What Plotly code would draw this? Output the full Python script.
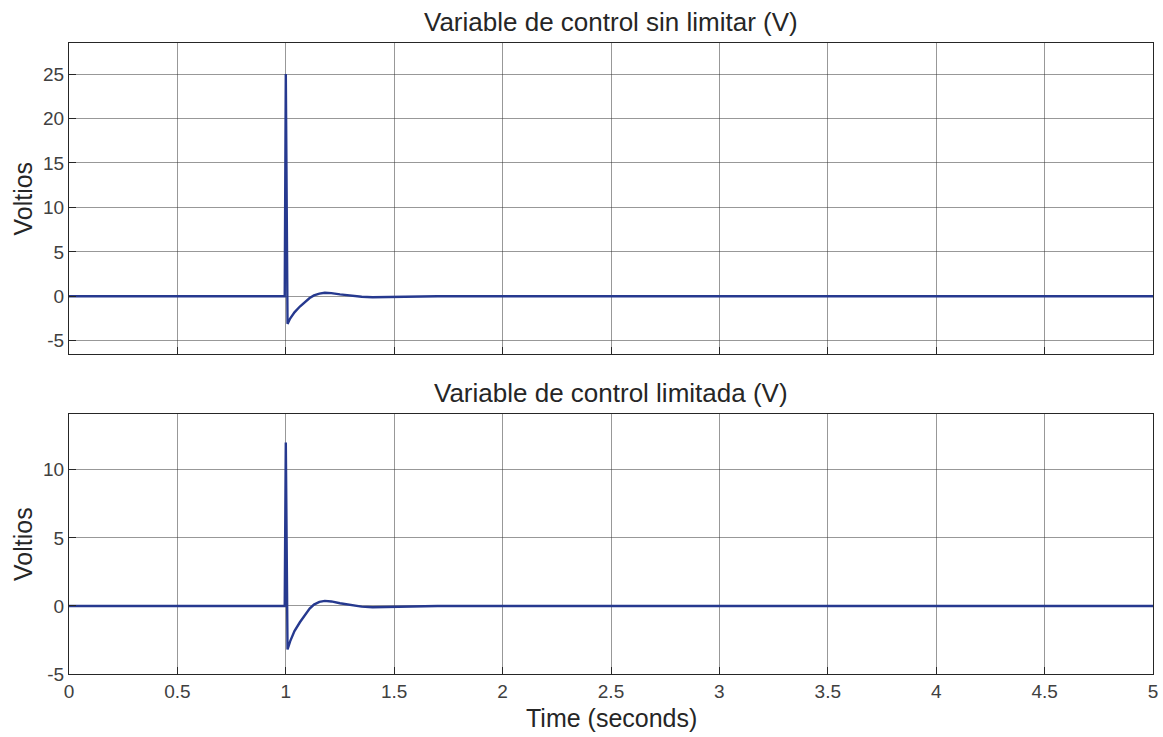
import plotly.graph_objects as go
from plotly.subplots import make_subplots

# Time samples (s)
t = [0.0, 0.995, 1.0, 1.008, 1.02, 1.04, 1.065, 1.09, 1.11, 1.13, 1.155, 1.18,
     1.21, 1.25, 1.30, 1.35, 1.40, 1.45, 1.50, 1.60, 1.70, 5.0]
# Unlimited control signal (V)
u_unlim = [0.0, 0.0, 25.0, -3.1, -2.5, -1.8, -1.15, -0.6, -0.2, 0.1, 0.3, 0.4,
           0.36, 0.22, 0.07, -0.05, -0.1, -0.08, -0.04, 0.0, 0.0, 0.0]
# Limited control signal (V)
u_lim = [0.0, 0.0, 12.0, -3.2, -2.6, -1.85, -1.2, -0.6, -0.2, 0.1, 0.3, 0.37,
         0.33, 0.2, 0.07, -0.05, -0.1, -0.08, -0.04, 0.0, 0.0, 0.0]

titles = ["Variable de control sin limitar (V)", "Variable de control limitada (V)"]
y_label = "Voltios"
x_label = "Time (seconds)"
x_ticks = [0, 0.5, 1, 1.5, 2, 2.5, 3, 3.5, 4, 4.5, 5]
y1_ticks = [-5, 0, 5, 10, 15, 20, 25]
y2_ticks = [-5, 0, 5, 10]

line_color = "#26398f"
font = "Liberation Sans, Arial, sans-serif"
text_color = "#262626"

fig = make_subplots(rows=2, cols=1, shared_xaxes=False)
fig.add_trace(go.Scatter(x=t, y=u_unlim, mode="lines",
                         line=dict(color=line_color, width=2.4), showlegend=False), row=1, col=1)
fig.add_trace(go.Scatter(x=t, y=u_lim, mode="lines",
                         line=dict(color=line_color, width=2.4), showlegend=False), row=2, col=1)

axis_common = dict(showline=True, linecolor="#262626", linewidth=1.3, mirror=True,
                   ticks="inside", ticklen=7, tickcolor="#262626", automargin=False,
                   showgrid=True, gridcolor="rgba(50,50,50,0.5)", gridwidth=1,
                   zeroline=False, tickfont=dict(family=font, size=19, color="#404040"))

fig.update_xaxes(range=[0, 5], tickvals=x_ticks, domain=[0, 1], **axis_common)
fig.update_xaxes(showticklabels=False, row=1, col=1)
fig.update_xaxes(ticktext=[str(v) for v in x_ticks], row=2, col=1)
fig.update_yaxes(**axis_common)
fig.update_yaxes(range=[-6.5, 28.5], tickvals=y1_ticks, ticktext=[str(v) for v in y1_ticks],
                 domain=[0.507, 1], row=1, col=1)
fig.update_yaxes(range=[-5, 14.1], tickvals=y2_ticks, ticktext=[str(v) for v in y2_ticks],
                 domain=[0, 0.412], row=2, col=1)

# Subplot titles
fig.add_annotation(text=titles[0], xref="paper", yref="paper", x=0.5, y=1.0, yshift=4,
                   xanchor="center", yanchor="bottom", showarrow=False,
                   font=dict(family=font, size=26, color=text_color))
fig.add_annotation(text=titles[1], xref="paper", yref="paper", x=0.5, y=0.412, yshift=4,
                   xanchor="center", yanchor="bottom", showarrow=False,
                   font=dict(family=font, size=26, color=text_color))
# Y axis labels
for yc in [(0.507 + 1) / 2, 0.412 / 2]:
    fig.add_annotation(text=y_label, xref="paper", yref="paper", x=0, y=yc, xshift=-46,
                       xanchor="center", yanchor="middle", textangle=-90, showarrow=False,
                       font=dict(family=font, size=25, color=text_color))
# X axis label
fig.add_annotation(text=x_label, xref="paper", yref="paper", x=0.5, y=0, yshift=-44,
                   xanchor="center", yanchor="middle", showarrow=False,
                   font=dict(family=font, size=25, color=text_color))

fig.update_layout(width=1163, height=737, plot_bgcolor="white", paper_bgcolor="white",
                  margin=dict(l=69, r=10, t=43, b=63), hovermode=False)
fig.write_html("out.html", config={"displayModeBar": False},
               post_script="document.body.style.margin='0';document.body.style.overflow='hidden';")
